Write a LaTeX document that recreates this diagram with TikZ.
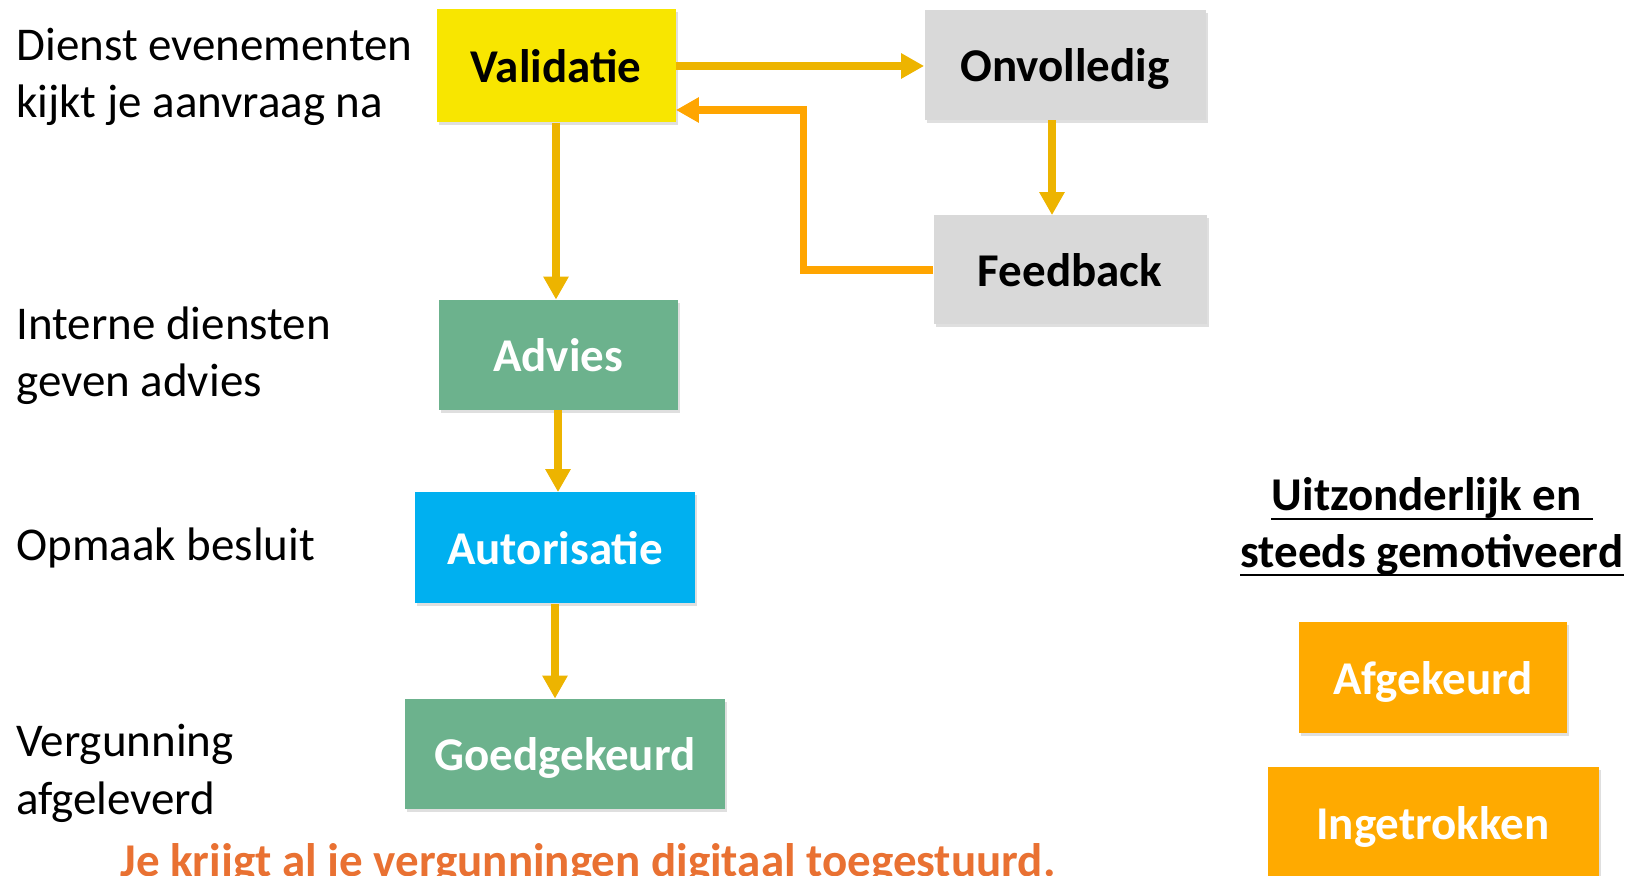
\documentclass[tikz,border=0pt]{standalone}
\usepackage{fontspec}
\setmainfont{Carlito}
\usetikzlibrary{arrows.meta,shadows}
\definecolor{valyellow}{RGB}{248,230,0}
\definecolor{boxgray}{RGB}{217,217,217}
\definecolor{boxgreen}{RGB}{108,178,141}
\definecolor{boxblue}{RGB}{0,176,240}
\definecolor{boxorange}{RGB}{255,170,0}
\definecolor{arrowgold}{RGB}{237,180,0}
\definecolor{arroworange}{RGB}{255,165,0}
\definecolor{noteorange}{RGB}{233,113,50}

\tikzset{
  phase/.style={rectangle, inner sep=0pt, text depth=0pt, font=\fontsize{23.5}{28}\selectfont\bfseries,
    drop shadow={opacity=0.25, shadow xshift=1pt, shadow yshift=-1.5pt}},
  flow/.style={line width=3.6pt, draw=arrowgold, -{Triangle[width=12pt,length=11.5pt]}},
  side/.style={anchor=base west, align=left, inner sep=0pt, font=\fontsize{23.5}{28.5}\selectfont},
  heading/.style={anchor=base, inner sep=0pt, font=\fontsize{23.5}{28.5}\selectfont\bfseries}
}

\begin{document}
\begin{tikzpicture}[x=0.5pt, y=-0.5pt]
  \useasboundingbox (0,0) rectangle (1629,876);
  \clip (0,0) rectangle (1629,876);
  \fill[white] (0,0) rectangle (1629,876);

  \node[side] (dienst) at (16,118) {Dienst evenementen\\kijkt je aanvraag na};
  \node[side] (intern) at (16,397) {Interne diensten\\geven advies};
  \node[side] (opmaak) at (16,561) {Opmaak besluit};
  \node[side] (vergun) at (16,814) {Vergunning\\afgeleverd};

  \node[phase, fill=valyellow, minimum width=119.5pt, minimum height=56.5pt] (val) at (556,66) {Validatie};
  \node[phase, fill=boxgray, minimum width=140.5pt, minimum height=55pt] (onv) at (1065,65) {Onvolledig};
  \node[phase, fill=boxgray, minimum width=136.5pt, minimum height=54.5pt] (fb) at (1070,270) {Feedback};
  \node[phase, fill=boxgreen, text=white, minimum width=119.5pt, minimum height=55pt] (adv) at (558,355) {Advies};
  \node[phase, fill=boxblue, text=white, minimum width=140pt, minimum height=55.5pt] (aut) at (555,548) {Autorisatie};
  \node[phase, fill=boxgreen, text=white, minimum width=160pt, minimum height=55pt] (goed) at (565,754) {Goedgekeurd};
  \node[phase, fill=boxorange, text=white, minimum width=134pt, minimum height=55.5pt] (afg) at (1433,678) {Afgekeurd};
  \node[phase, fill=boxorange, text=white, minimum width=165.5pt, minimum height=55.5pt] (ing) at (1433,823) {Ingetrokken};

  \node[heading] (uitz) at (1432,511) {Uitzonderlijk en\kern0.23em};
  \node[heading] (gemot) at (1432,568) {steeds gemotiveerd};
  \draw[line width=1.3pt] ([yshift=-4pt]uitz.base west) -- ([yshift=-4pt]uitz.base east);
  \draw[line width=1.3pt] ([yshift=-3.5pt]gemot.base west) -- ([yshift=-3.5pt]gemot.base east);

  \node[heading, text=noteorange] (note) at (588,877) {Je krijgt al je vergunningen digitaal toegestuurd.};

  \draw[flow] (val.east) -- (val.east -| onv.west);
  \draw[flow] (val.south) -- (val.south |- adv.north);
  \draw[flow] ([xshift=-6.5pt]onv.south) -- ([xshift=-6.5pt]onv.south |- fb.north);
  \draw[flow, draw=arroworange] (fb.west) -- ++(-130,0) |- ([yshift=-22pt]val.east);
  \draw[flow] (adv.south) -- (adv.south |- aut.north);
  \draw[flow] (aut.south) -- (aut.south |- goed.north);
\end{tikzpicture}
\end{document}
